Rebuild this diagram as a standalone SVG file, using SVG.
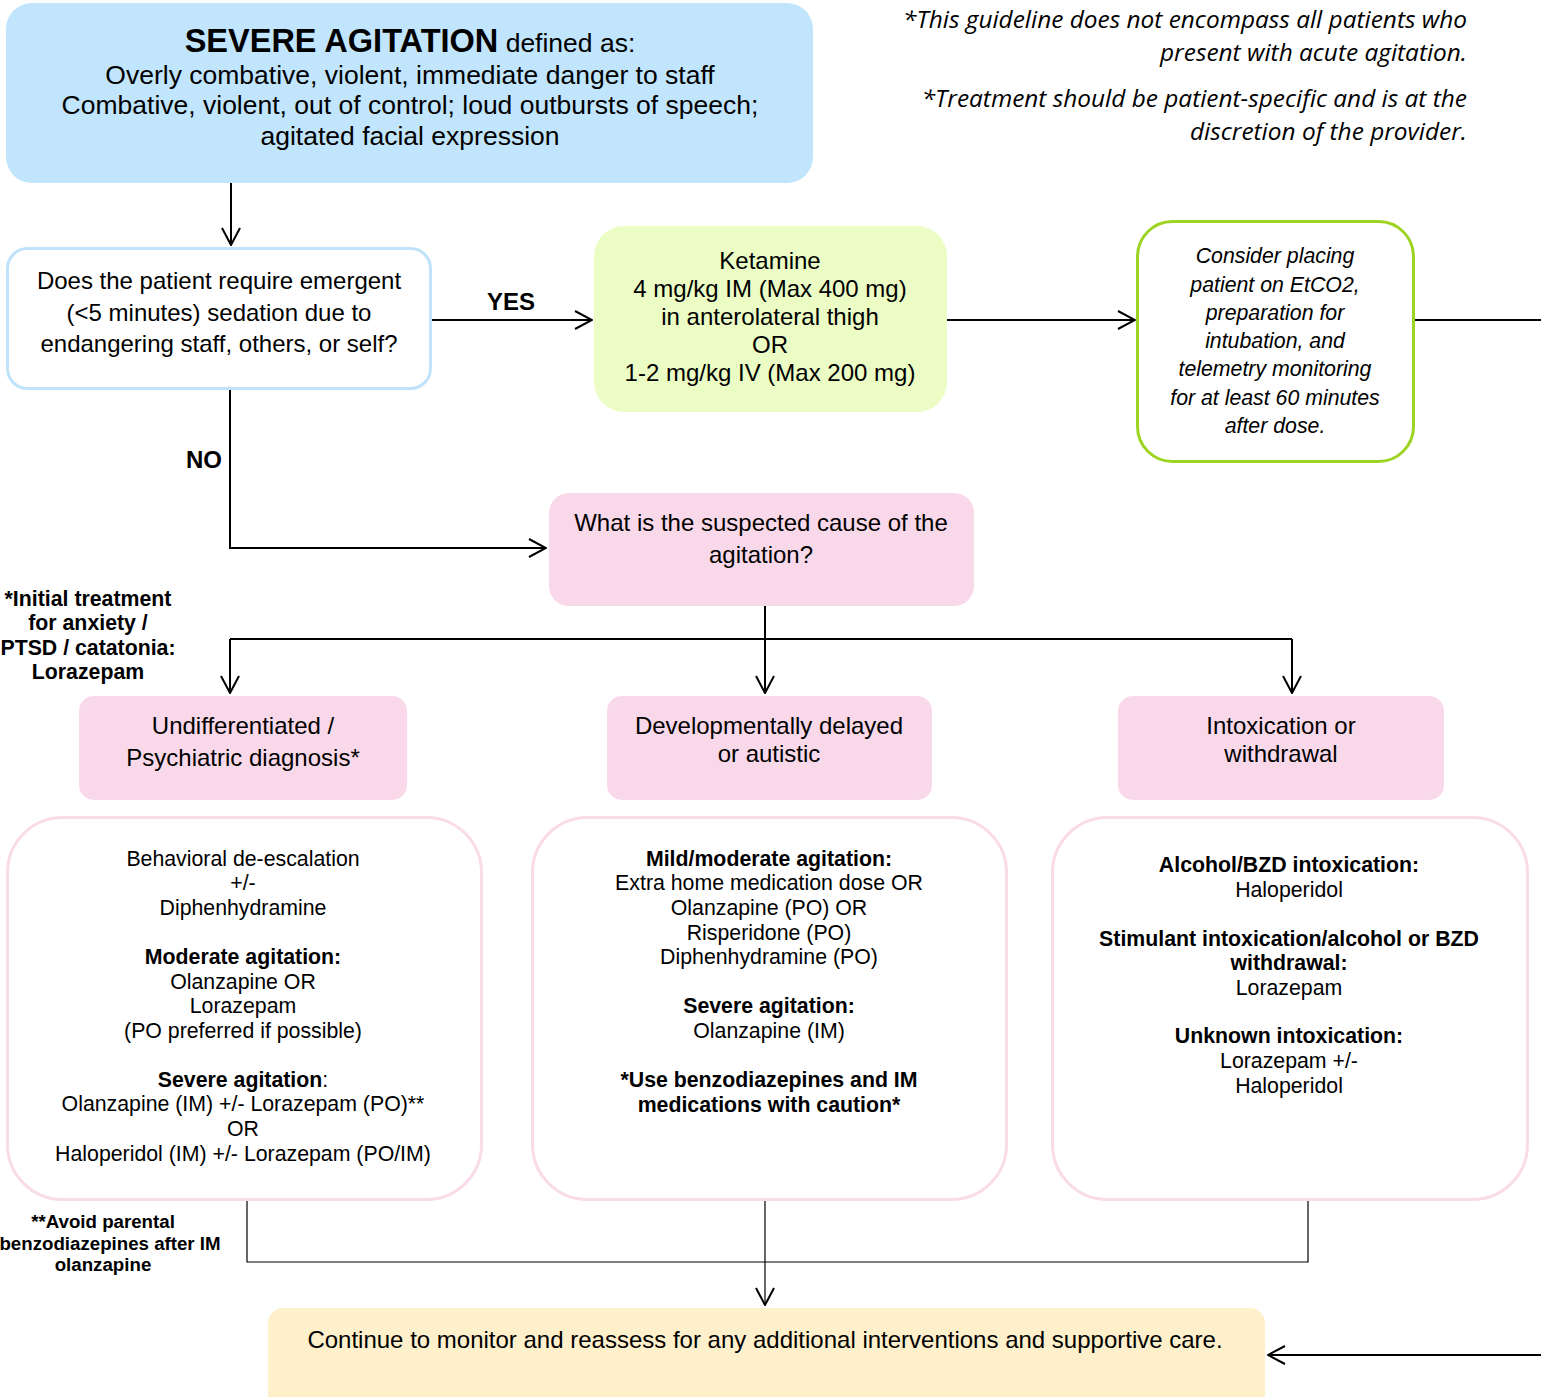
<svg xmlns="http://www.w3.org/2000/svg" width="1541" height="1397" viewBox="0 0 1541 1397">
<style>
text{font-family:"Liberation Sans",Arial,sans-serif;fill:#000;text-anchor:middle}
.b{font-weight:bold}
.t20{font-size:21.3px}
.t21{font-size:21.3px}
.t24{font-size:24px}
.it{font-style:italic}
.note{font-family:"Open Sans","Noto Sans",sans-serif;font-style:italic;font-size:24.4px;text-anchor:end}
.pink{fill:#f9d9e9}
.tbox{fill:#fff;stroke:#fadbe9;stroke-width:3}
.c{fill:none;stroke:#000;stroke-width:2}
.c1{fill:none;stroke:#000;stroke-width:1.2}
</style>
<defs>
<marker id="ah" viewBox="0 0 20 20" refX="19" refY="10" markerWidth="20" markerHeight="20" markerUnits="userSpaceOnUse" orient="auto">
<path d="M2,1 L19,10 L2,19" fill="none" stroke="#000" stroke-width="2"/>
</marker>
</defs>
<rect width="1541" height="1397" fill="#fff"/>

<g id="notes">
<text class="note" x="1467" y="28">*This guideline does not encompass all patients who</text>
<text class="note" x="1467" y="61">present with acute agitation.</text>
<text class="note" x="1467" y="107">*Treatment should be patient-specific and is at the</text>
<text class="note" x="1467" y="140">discretion of the provider.</text>
</g>

<g id="connectors">
<path class="c" d="M231,183 V245" marker-end="url(#ah)"/>
<path class="c" d="M431,320 H592" marker-end="url(#ah)"/>
<path class="c" d="M947,320 H1135" marker-end="url(#ah)"/>
<path class="c" d="M1413,320 H1541"/>
<path class="c" d="M230,389 V548 H546" marker-end="url(#ah)"/>
<path class="c" d="M765,606 V693" marker-end="url(#ah)"/>
<path class="c" d="M230,639 H1292"/>
<path class="c" d="M230,639 V693" marker-end="url(#ah)"/>
<path class="c" d="M1292,639 V693" marker-end="url(#ah)"/>
<path class="c1" d="M247,1200 V1262 H1308 V1200"/>
<path class="c1" d="M765,1200 V1305" marker-end="url(#ah)"/>
<path class="c" d="M1541,1355 H1268" marker-end="url(#ah)"/>
<text class="b t24" x="511" y="310">YES</text>
<text class="b t24" x="204" y="468">NO</text>
</g>

<g id="severe">
<rect x="6" y="3" width="807" height="180" rx="26" fill="#c0e5fc"/>
<text font-size="26.5" x="410" y="52"><tspan class="b" font-size="32.5">SEVERE AGITATION</tspan> defined as:</text>
<text font-size="26.5" x="410" y="84">Overly combative, violent, immediate danger to staff</text>
<text font-size="26.5" x="410" y="114">Combative, violent, out of control; loud outbursts of speech;</text>
<text font-size="26.5" x="410" y="145">agitated facial expression</text>
</g>

<g id="question">
<rect x="7.5" y="248.5" width="423" height="140" rx="20" fill="#fff" stroke="#c0e2fa" stroke-width="3"/>
<text class="t24" x="219" y="289">Does the patient require emergent</text>
<text class="t24" x="219" y="321">(&lt;5 minutes) sedation due to</text>
<text class="t24" x="219" y="352">endangering staff, others, or self?</text>
</g>

<g id="ketamine">
<rect x="594" y="226" width="353" height="186" rx="30" fill="#ebfcc4"/>
<text class="t24" x="770" y="269">Ketamine</text>
<text class="t24" x="770" y="297">4 mg/kg IM (Max 400 mg)</text>
<text class="t24" x="770" y="325">in anterolateral thigh</text>
<text class="t24" x="770" y="353">OR</text>
<text class="t24" x="770" y="381">1-2 mg/kg IV (Max 200 mg)</text>
</g>

<g id="monitor">
<rect x="1137.5" y="221.5" width="276" height="240" rx="35" fill="#fff" stroke="#9dd323" stroke-width="3"/>
<text class="t21 it" x="1275" y="263">Consider placing</text>
<text class="t21 it" x="1275" y="292">patient on EtCO2,</text>
<text class="t21 it" x="1275" y="320">preparation for</text>
<text class="t21 it" x="1275" y="348">intubation, and</text>
<text class="t21 it" x="1275" y="376">telemetry monitoring</text>
<text class="t21 it" x="1275" y="405">for at least 60 minutes</text>
<text class="t21 it" x="1275" y="433">after dose.</text>
</g>

<g id="cause">
<rect class="pink" x="549" y="493" width="425" height="113" rx="20"/>
<text class="t24" x="761" y="531">What is the suspected cause of the</text>
<text class="t24" x="761" y="563">agitation?</text>
</g>

<g id="initial-note">
<text class="b t21" x="88" y="606">*Initial treatment</text>
<text class="b t21" x="88" y="630">for anxiety /</text>
<text class="b t21" x="88" y="655">PTSD / catatonia:</text>
<text class="b t21" x="88" y="679">Lorazepam</text>
</g>

<g id="undiff">
<rect class="pink" x="79" y="696" width="328" height="104" rx="15"/>
<text class="t24" x="243" y="734">Undifferentiated /</text>
<text class="t24" x="243" y="766">Psychiatric diagnosis*</text>
</g>

<g id="devel">
<rect class="pink" x="607" y="696" width="325" height="104" rx="15"/>
<text class="t24" x="769" y="734">Developmentally delayed</text>
<text class="t24" x="769" y="762">or autistic</text>
</g>

<g id="intox">
<rect class="pink" x="1118" y="696" width="326" height="104" rx="15"/>
<text class="t24" x="1281" y="734">Intoxication or</text>
<text class="t24" x="1281" y="762">withdrawal</text>
</g>

<g id="treat-undiff">
<rect class="tbox" x="7.5" y="817.5" width="474" height="382" rx="55"/>
<text class="t20" x="243" y="866">Behavioral de-escalation</text>
<text class="t20" x="243" y="890">+/-</text>
<text class="t20" x="243" y="915">Diphenhydramine</text>
<text class="t20 b" x="243" y="964">Moderate agitation:</text>
<text class="t20" x="243" y="989">Olanzapine OR</text>
<text class="t20" x="243" y="1013">Lorazepam</text>
<text class="t20" x="243" y="1038">(PO preferred if possible)</text>
<text class="t20" x="243" y="1087"><tspan class="b">Severe agitation</tspan>:</text>
<text class="t20" x="243" y="1111">Olanzapine (IM) +/- Lorazepam (PO)**</text>
<text class="t20" x="243" y="1136">OR</text>
<text class="t20" x="243" y="1161">Haloperidol (IM) +/- Lorazepam (PO/IM)</text>
</g>

<g id="treat-devel">
<rect class="tbox" x="532.5" y="817.5" width="474" height="382" rx="55"/>
<text class="t20 b" x="769" y="866">Mild/moderate agitation:</text>
<text class="t20" x="769" y="890">Extra home medication dose OR</text>
<text class="t20" x="769" y="915">Olanzapine (PO) OR</text>
<text class="t20" x="769" y="940">Risperidone (PO)</text>
<text class="t20" x="769" y="964">Diphenhydramine (PO)</text>
<text class="t20 b" x="769" y="1013">Severe agitation:</text>
<text class="t20" x="769" y="1038">Olanzapine (IM)</text>
<text class="t20 b" x="769" y="1087">*Use benzodiazepines and IM</text>
<text class="t20 b" x="769" y="1112">medications with caution*</text>
</g>

<g id="treat-intox">
<rect class="tbox" x="1052.5" y="817.5" width="475" height="382" rx="55"/>
<text class="t20 b" x="1289" y="872">Alcohol/BZD intoxication:</text>
<text class="t20" x="1289" y="897">Haloperidol</text>
<text class="t20 b" x="1289" y="946">Stimulant intoxication/alcohol or BZD</text>
<text class="t20 b" x="1289" y="970">withdrawal:</text>
<text class="t20" x="1289" y="995">Lorazepam</text>
<text class="t20 b" x="1289" y="1043">Unknown intoxication:</text>
<text class="t20" x="1289" y="1068">Lorazepam +/-</text>
<text class="t20" x="1289" y="1093">Haloperidol</text>
</g>

<g id="avoid-note">
<text class="b" font-size="18.7" x="103" y="1228">**Avoid parental</text>
<text class="b" font-size="18.7" x="110" y="1250">benzodiazepines after IM</text>
<text class="b" font-size="18.7" x="103" y="1271">olanzapine</text>
</g>

<g id="continue">
<rect x="268" y="1308" width="997" height="110" rx="15" fill="#fff0cc"/>
<text class="t24" x="765" y="1348">Continue to monitor and reassess for any additional interventions and supportive care.</text>
</g>
</svg>
